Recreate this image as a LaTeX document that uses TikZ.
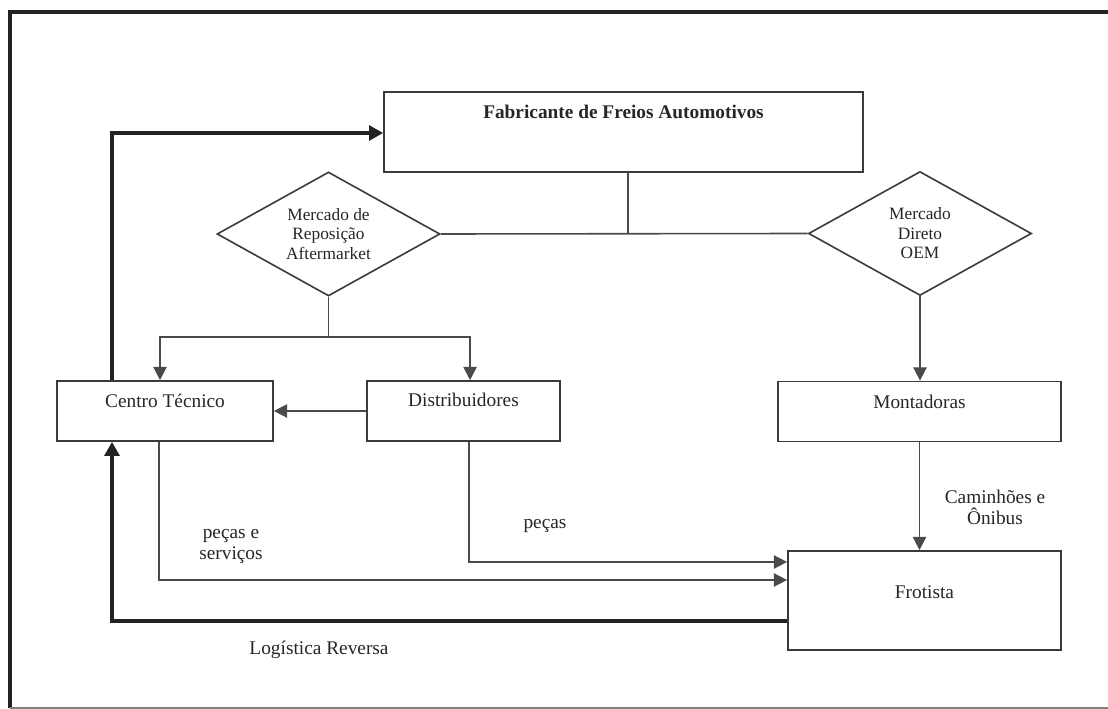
\documentclass[tikz,border=0pt]{standalone}
\usepackage{fontspec}
\setmainfont{Liberation Serif}
\usetikzlibrary{arrows.meta,shapes.geometric}
\definecolor{boxgray}{HTML}{3A3A3A}
\definecolor{linegray}{HTML}{4A4A4A}
\definecolor{thickgray}{HTML}{222222}
\definecolor{txtgray}{HTML}{262626}
\newcommand\mysz{\fontsize{14.5}{15.75}\selectfont}
\newcommand\mydsz{\fontsize{13}{14.6}\selectfont}
\begin{document}
\begin{tikzpicture}[x=0.75pt,y=-0.75pt,
  box/.style={draw=boxgray, line width=1.3pt, rectangle, inner sep=0pt},
  dmd/.style={draw=boxgray, line width=1.2pt, diamond, aspect=1.8, inner sep=0pt,
    minimum width=167.25pt, minimum height=93pt, align=center, text=txtgray, font=\mydsz},
  lbl/.style={text=txtgray, font=\mysz, align=center, inner sep=0pt},
  conn/.style={draw=linegray, line width=1.2pt},
  arr/.style={conn, -{Triangle[length=10pt,width=10pt]}},
  thickarr/.style={draw=thickgray, line width=3pt, -{Triangle[length=10.5pt,width=11pt]}}
]
\useasboundingbox (0,0) rectangle (1108,709);
% outer frame
\coordinate (ftr) at (1108,12);
\coordinate (ftl) at (10,12);
\coordinate (fbl) at (10,708);
\coordinate (fbr) at (1108,708);
\draw[draw=thickgray, line width=3.4pt] (ftr) -- (ftl) -- (fbl);
\draw[draw=gray, line width=1.1pt] (fbl) -- (fbr);

% boxes
\node[box, minimum width=359.25pt, minimum height=60pt,
  label={[lbl, font=\mysz\bfseries, yshift=15pt]center:Fabricante de Freios Automotivos}]
  (fab) at (623.5,132) {};
\node[box, minimum width=162pt, minimum height=45pt,
  label={[lbl, yshift=7.5pt]center:Centro Técnico}] (ct) at (165,411) {};
\node[box, minimum width=144.75pt, minimum height=45pt,
  label={[lbl, yshift=8pt]center:Distribuidores}] (dist) at (463.5,411) {};
\node[box, minimum width=212.25pt, minimum height=45pt,
  label={[lbl, yshift=7.5pt]center:Montadoras}] (mont) at (919.5,411.5) {};
\node[box, minimum width=204.75pt, minimum height=74.25pt,
  label={[lbl, yshift=6.4pt]center:Frotista}] (frot) at (924.5,600.5) {};

% diamonds
\node[dmd] (am) at (328.5,234) {Mercado de\\Reposição\\Aftermarket};
\node[dmd] (oem) at (920,233.5) {Mercado\\Direto\\OEM};

% waypoints
\coordinate (j1) at (628,233.5);
\coordinate (br) at (328.5,337);
\coordinate (c1) at (159,580);
\coordinate (c2) at (469,562);
\coordinate (c3) at (112,621);
\coordinate (c4) at (112,133);

% connectors
\draw[conn] (fab.south -| j1) -- (j1);
\draw[conn] (am.east) -- (oem.west);
\draw[conn] (am.south) -- (br);
\draw[arr] (br) -| ([xshift=-3.75pt]ct.north);
\draw[arr] (br) -| ([xshift=4.9pt]dist.north);
\draw[arr] (dist.west) -- (ct.east);
\draw[arr] (oem.south) -- (oem.south |- mont.north);
\draw[arr] (mont.south) -- (mont.south |- frot.north);
\draw[arr] (ct.south -| c1) -- (c1) -- (frot.west |- c1);
\draw[arr] (dist.south -| c2) -- (c2) -- (frot.west |- c2);
\draw[thickarr] (frot.west |- c3) -- (c3) -- (ct.south -| c3);
\draw[thickarr] (ct.north -| c4) -- (c4) -- (fab.west |- c4);

% connector labels
\node[lbl] (lcam) at (995,507) {Caminhões e\\Ônibus};
\node[lbl] (lps) at (231,547) {peças e\\serviços};
\node[lbl] (lp) at (545,526) {peças};
\node[lbl] (llr) at (319,650) {Logística Reversa};
\end{tikzpicture}
\end{document}
